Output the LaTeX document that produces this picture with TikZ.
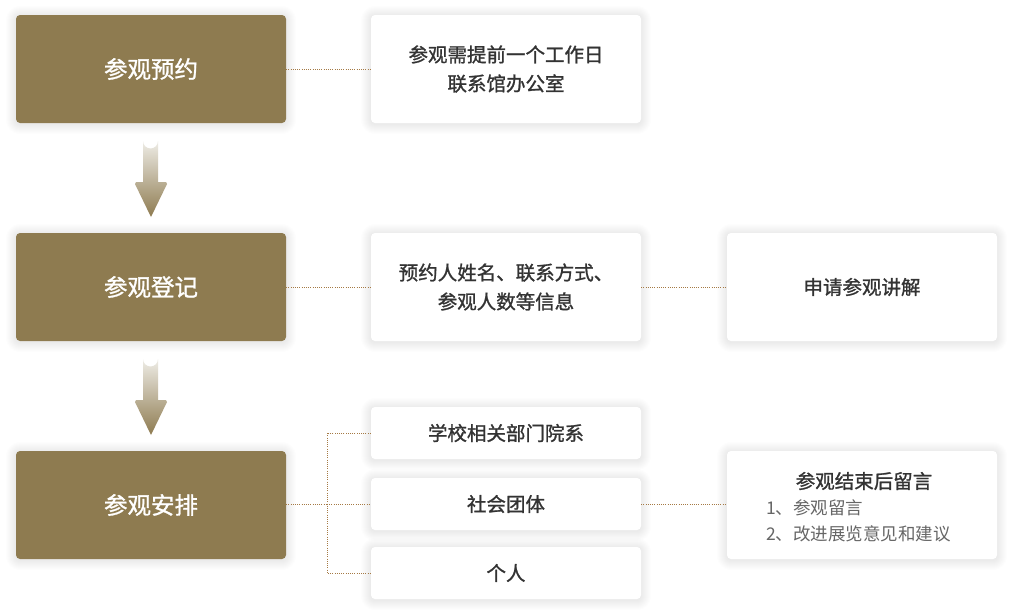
\documentclass[tikz,border=0pt]{standalone}
\usepackage{fontspec}
\setmainfont{Noto Sans CJK SC}
\newfontfamily\medfont[FakeBold=1.2]{Noto Sans CJK SC}
\usetikzlibrary{positioning}
\definecolor{brown1}{HTML}{8E7B50}
\definecolor{txtdark}{HTML}{333333}
\definecolor{txtgray}{HTML}{666666}
\definecolor{dotc}{HTML}{A57A45}
\definecolor{arrtop}{HTML}{EEECE6}
\tikzset{
  brownbox/.style={fill=brown1, rounded corners=4pt, minimum width=270pt, minimum height=108pt, inner sep=0pt, text=white, font=\medfont\fontsize{23.5pt}{26pt}\selectfont},
  whitebox/.style={fill=white, rounded corners=4pt, minimum width=270pt, minimum height=108pt, inner sep=0pt, text=txtdark, align=center, font=\medfont\fontsize{19.5pt}{29pt}\selectfont},
  smallbox/.style={whitebox, minimum height=52pt},
  dotline/.style={dotc, dash pattern=on 1pt off 1.2pt, line width=1pt},
}
\newcommand{\softshadow}[4]{% x1 y1 x2 y2
  \foreach \s in {1,2,...,10}{
    \fill[black!60!brown1, opacity=0.006, rounded corners=4pt+\s pt] (#1-\s, #2-\s+1) rectangle (#3+\s, #4+\s+1);
  }
}
\begin{document}
\begin{tikzpicture}[x=1pt,y=-1pt]
\useasboundingbox (0,0) rectangle (1013,616);
\fill[white] (0,0) rectangle (1013,616);
% shadows
\softshadow{16}{15}{286}{123}
\softshadow{16}{233}{286}{341}
\softshadow{16}{451}{286}{559}
\softshadow{371}{15}{641}{123}
\softshadow{371}{233}{641}{341}
\softshadow{727}{233}{997}{341}
\softshadow{371}{407}{641}{459}
\softshadow{371}{478}{641}{530}
\softshadow{371}{547}{641}{599}
\softshadow{727}{451}{997}{559}
% brown boxes
\node[brownbox] (b1) at (151,69) {参观预约};
\node[brownbox] (b2) at (151,287) {参观登记};
\node[brownbox] (b3) at (151,505) {参观安排};
% white boxes
\node[whitebox] (w1) at (506,69) {参观需提前一个工作日\\联系馆办公室};
\node[whitebox] (w2) at (506,287) {预约人姓名、联系方式、\\参观人数等信息};
\node[whitebox] (w3) at (862,287) {申请参观讲解};
\node[smallbox] (s1) at (506,433) {学校相关部门院系};
\node[smallbox] (s2) at (506,504) {社会团体};
\node[smallbox] (s3) at (506,573) {个人};
\node[whitebox] (w4) at (862,505) {};
\node[text=txtdark, font=\medfont\fontsize{19.5pt}{22pt}\selectfont, inner sep=0pt] (t4) at (864,481) {参观结束后留言};
\node[text=txtgray, font=\fontsize{17.5pt}{20pt}\selectfont, inner sep=0pt, anchor=west] (t5) at (766,508) {1、参观留言};
\node[text=txtgray, font=\fontsize{17.5pt}{20pt}\selectfont, inner sep=0pt, anchor=west] (t6) at (766,534) {2、改进展览意见和建议};
% arrows
\foreach \yy in {0,218}{
  \shade[top color=arrtop, bottom color=brown1, shading angle=0]
    (143,182+\yy) -- (143,141+\yy) arc[start angle=180,end angle=0,radius=7.5] -- (158,182+\yy)
    -- (166,182+\yy) -- (167,184+\yy) -- (151,217+\yy) -- (135,184+\yy) -- (136,182+\yy) -- cycle;
}
% dotted connectors
\draw[dotline] (b1.east) -- (w1.west);
\draw[dotline] (b2.east) -- (w2.west);
\draw[dotline] (w2.east) -- (w3.west);
\coordinate (j) at (327,504);
\draw[dotline] (b3.east |- j) -- (j);
\draw[dotline] (s1.west) -| (j) |- (s3.west);
\draw[dotline] (j) -- (s2.west);
\draw[dotline] (s2.east) -- (w4.west |- s2.east);
\end{tikzpicture}
\end{document}
